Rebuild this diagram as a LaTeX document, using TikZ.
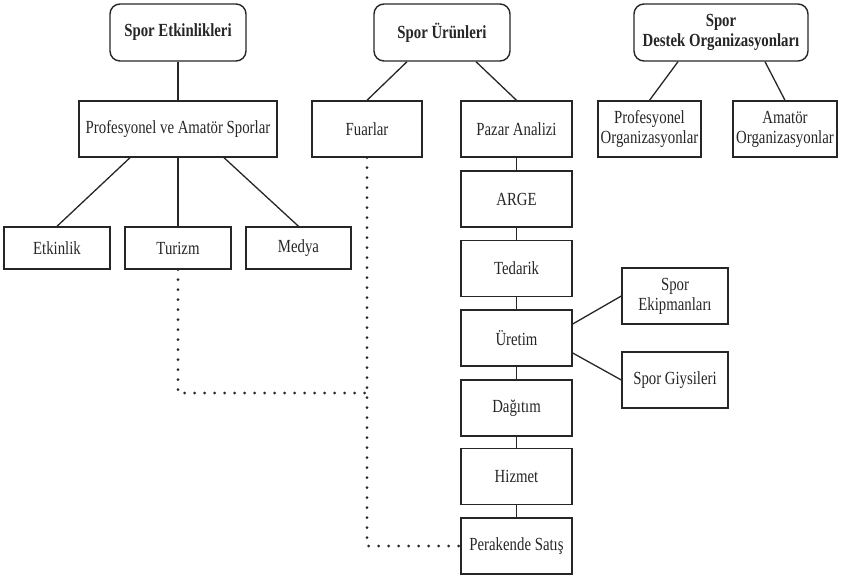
\documentclass[tikz,border=0pt]{standalone}
\usepackage{fontspec}
\setmainfont[FakeStretch=0.8]{Liberation Serif}
\usetikzlibrary{calc}
\definecolor{ink}{HTML}{262626}
\begin{document}
\begin{tikzpicture}[x=1pt,y=-1pt,
  box/.style={draw=ink, line width=1.4pt, text=ink, inner sep=0pt, align=center,
    font=\fontsize{18.5}{20}\selectfont, minimum height=56pt},
  rbox/.style={box, rounded corners=10pt, font=\fontsize{18.5}{20}\selectfont\bfseries, minimum height=57pt},
  link/.style={draw=ink, line width=1.3pt},
  dotline/.style={draw=ink, line width=3pt, line cap=round, dash pattern=on 0pt off 10pt}]
\useasboundingbox (0,0) rectangle (846,577);
% top level
\node[rbox, minimum width=136pt] (se) at (178,32.5) {Spor Etkinlikleri};
\node[rbox, minimum width=136pt] (su) at (442,32.5) {Spor Ürünleri};
\node[rbox, minimum width=174pt] (sd) at (721,32.5) {Spor\\Destek Organizasyonları};
% second level
\node[box, minimum width=198pt] (pva) at (178,129) {Profesyonel ve Amatör Sporlar};
\node[box, minimum width=110pt] (fu) at (367,129) {Fuarlar};
\node[box, minimum width=111pt] (pa) at (516.5,129) {Pazar Analizi};
\node[box, minimum width=103pt] (po) at (649.5,129) {Profesyonel\\Organizasyonlar};
\node[box, minimum width=104pt] (ao) at (785,129) {Amatör\\Organizasyonlar};
% third level left
\node[box, minimum width=106pt, minimum height=42pt] (et) at (57,248) {Etkinlik};
\node[box, minimum width=106pt, minimum height=42pt] (tu) at (178,248) {Turizm};
\node[box, minimum width=105pt, minimum height=42pt] (me) at (298.5,248) {Medya};
% column
\node[box, minimum width=111pt] (ar) at (516.5,199) {ARGE};
\node[box, minimum width=111pt] (te) at (516.5,268.5) {Tedarik};
\node[box, minimum width=111pt] (ur) at (516.5,338) {Üretim};
\node[box, minimum width=111pt] (da) at (516.5,408) {Dağıtım};
\node[box, minimum width=111pt] (hi) at (516.5,476.5) {Hizmet};
\node[box, minimum width=111pt] (pe) at (516.5,546) {Perakende Satış};
% side boxes
\node[box, minimum width=106pt] (ek) at (675,296) {Spor\\Ekipmanları};
\node[box, minimum width=106pt] (gi) at (675,380) {Spor Giysileri};
% links
\draw[link] (se.south) -- (pva.north);
\draw[link] ($(su.south)+(-35,0)$) -- (fu.north);
\draw[link] ($(su.south)+(34,0)$) -- (pa.north);
\draw[link] ($(sd.south)+(-43,0)$) -- (po.north);
\draw[link] ($(sd.south)+(44,0)$) -- (ao.north);
\draw[link] ($(pva.south)+(-48,0)$) -- (et.north);
\draw[link] (pva.south) -- (tu.north);
\draw[link] ($(pva.south)+(46,0)$) -- (me.north);
\draw[link] (pa.south) -- (ar.north);
\draw[link] (ar.south) -- (te.north);
\draw[link] (te.south) -- (ur.north);
\draw[link] (ur.south) -- (da.north);
\draw[link] (da.south) -- (hi.north);
\draw[link] (hi.south) -- (pe.north);
\draw[link] ($(ur.east)+(0,-14)$) -- (ek.west);
\draw[link] ($(ur.east)+(0,15)$) -- (gi.west);
% dotted connectors
\coordinate (j) at (367,393);
\draw[dotline] (fu.south) -- (fu.south |- pe.west) -- (pe.west);
\draw[dotline] (tu.south) -- (tu.south |- j) -- (j);
\end{tikzpicture}
\end{document}
